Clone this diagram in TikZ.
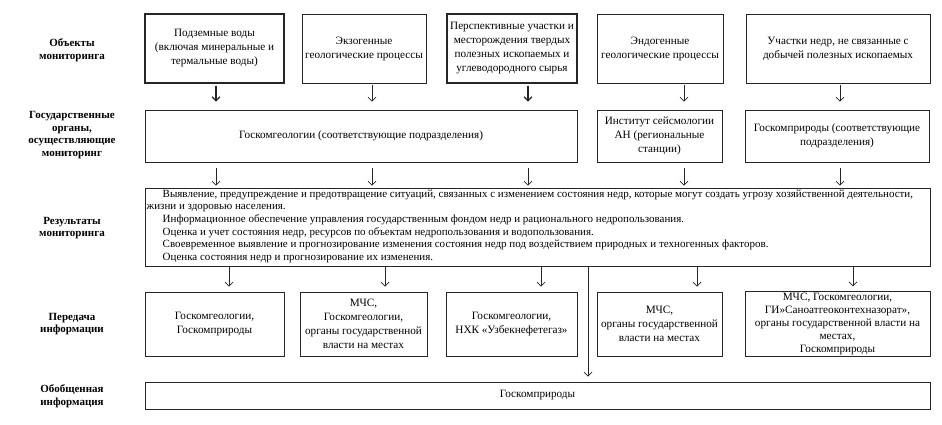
\documentclass[tikz,border=0pt]{standalone}
\usepackage{fontspec}
\setmainfont{Liberation Serif}
\usetikzlibrary{arrows.meta}
\begin{document}
\begin{tikzpicture}[x=1pt,y=-1pt,
  box/.style={draw=black!85, line width=0.7pt, align=center, inner sep=1pt,
    font=\fontsize{11.2}{14}\selectfont},
  thickbox/.style={box, line width=1.3pt},
  lab/.style={align=center, inner sep=0pt, font=\bfseries\fontsize{11}{12.5}\selectfont},
  arr/.style={draw=black!85, line width=0.7pt, -{Straight Barb[length=4pt,width=8pt]}},
  thickarr/.style={arr, line width=1.2pt}]
\useasboundingbox (0,0) rectangle (942,425);
\fill[white] (0,0) rectangle (942,425);

% left labels
\node[lab] (l1) at (72,50) {Объекты\\мониторинга};
\node[lab] (l2) at (72,135) {Государственные\\органы,\\осуществляющие\\мониторинг};
\node[lab] (l3) at (72,228) {Результаты\\мониторинга};
\node[lab] (l4) at (72,324) {Передача\\информации};
\node[lab] (l5) at (72,396) {Обобщенная\\информация};

% row 1
\node[thickbox, minimum width=139, minimum height=69] (o1) at (214.5,48.5) {Подземные воды\\(включая минеральные и\\термальные воды)};
\node[box, minimum width=124, minimum height=69] (o2) at (364,48.5) {Экзогенные\\геологические процессы};
\node[thickbox, minimum width=130, minimum height=69] (o3) at (512,48.5) {Перспективные участки и\\месторождения твердых\\полезных ископаемых и\\углеводородного сырья};
\node[box, minimum width=126, minimum height=69] (o4) at (660,48.5) {Эндогенные\\геологические процессы};
\node[box, minimum width=184, minimum height=69] (o5) at (838,48.5) {Участки недр, не связанные с\\добычей полезных ископаемых};

% row 2
\node[box, minimum width=432, minimum height=52] (g1) at (361,136) {Госкомгеологии (соответствующие подразделения)};
\node[box, minimum width=125, minimum height=52] (g2) at (659.5,136) {Институт сейсмологии\\АН (региональные\\станции)};
\node[box, minimum width=184, minimum height=52] (g3) at (837,136) {Госкомприроды (соответствующие\\подразделения)};

% row 3
\node[box, minimum width=785, minimum height=78] (res) at (537.5,227) {};
\node[anchor=north west, align=left, inner sep=0pt, font=\fontsize{11}{12.6}\selectfont] (rt) at (146.5,189.5) {%
\hspace*{16pt}Выявление, предупреждение и предотвращение ситуаций, связанных с изменением состояния недр, которые могут создать угрозу хозяйственной деятельности,\\
жизни и здоровью населения.\\
\hspace*{16pt}Информационное обеспечение управления государственным фондом недр и рационального недропользования.\\
\hspace*{16pt}Оценка и учет состояния недр, ресурсов по объектам недропользования и водопользования.\\
\hspace*{16pt}Своевременное выявление и прогнозирование изменения состояния недр под воздействием природных и техногенных факторов.\\
\hspace*{16pt}Оценка состояния недр и прогнозирование их изменения.};

% row 4
\node[box, minimum width=139, minimum height=64] (p1) at (214.5,324) {Госкомгеологии,\\Госкомприроды};
\node[box, minimum width=127, minimum height=64] (p2) at (363.5,324) {МЧС,\\Госкомгеологии,\\органы государственной\\власти на местах};
\node[box, minimum width=131, minimum height=64] (p3) at (511.5,324) {Госкомгеологии,\\НХК «Узбекнефетегаз»};
\node[box, minimum width=125, minimum height=64] (p4) at (659.5,324) {МЧС,\\органы государственной\\власти на местах};
\node[box, minimum width=185, minimum height=64, font=\fontsize{11.2}{13.2}\selectfont] (p5) at (837.5,324) {МЧС, Госкомгеологии,\\ГИ»Саноатгеоконтехназорат»,\\органы государственной власти на\\местах,\\Госкомприроды};

% row 5
\node[box, minimum width=785, minimum height=27] (gen) at (537.5,395.5) {Госкомприроды};

% column positions
\coordinate (c1) at (216,0);
\coordinate (c2) at (372,0);
\coordinate (c3) at (528,0);
\coordinate (c4) at (684,0);
\coordinate (c5) at (840,0);
\coordinate (d1) at (229,0);
\coordinate (d2) at (385,0);
\coordinate (d3) at (541,0);
\coordinate (d4) at (697,0);
\coordinate (d5) at (853,0);
\coordinate (d6) at (588,0);

% row1 -> row2
\draw[thickarr] ([yshift=-2pt]o1.south -| c1) -- ([yshift=8pt]g1.north -| c1);
\draw[arr] ([yshift=-2pt]o2.south -| c2) -- ([yshift=8pt]g1.north -| c2);
\draw[thickarr] ([yshift=-2pt]o3.south -| c3) -- ([yshift=8pt]g1.north -| c3);
\draw[arr] ([yshift=-2pt]o4.south -| c4) -- ([yshift=8pt]g2.north -| c4);
\draw[arr] ([yshift=-2pt]o5.south -| c5) -- ([yshift=8pt]g3.north -| c5);

% row2 -> row3
\draw[arr] ([yshift=-6pt]g1.south -| c1) -- ([yshift=2pt]res.north -| c1);
\draw[arr] ([yshift=-6pt]g1.south -| c2) -- ([yshift=2pt]res.north -| c2);
\draw[arr] ([yshift=-6pt]g1.south -| c3) -- ([yshift=2pt]res.north -| c3);
\draw[arr] ([yshift=-6pt]g2.south -| c4) -- ([yshift=2pt]res.north -| c4);
\draw[arr] ([yshift=-6pt]g3.south -| c5) -- ([yshift=2pt]res.north -| c5);

% row3 -> row4
\draw[arr] (res.south -| d1) -- ([yshift=5pt]p1.north -| d1);
\draw[arr] (res.south -| d2) -- ([yshift=5pt]p2.north -| d2);
\draw[arr] (res.south -| d3) -- ([yshift=5pt]p3.north -| d3);
\draw[arr] (res.south -| d4) -- ([yshift=5pt]p4.north -| d4);
\draw[arr] (res.south -| d5) -- ([yshift=5pt]p5.north -| d5);

% row3 -> row5
\draw[arr] (res.south -| d6) -- ([yshift=5pt]gen.north -| d6);
\end{tikzpicture}
\end{document}
